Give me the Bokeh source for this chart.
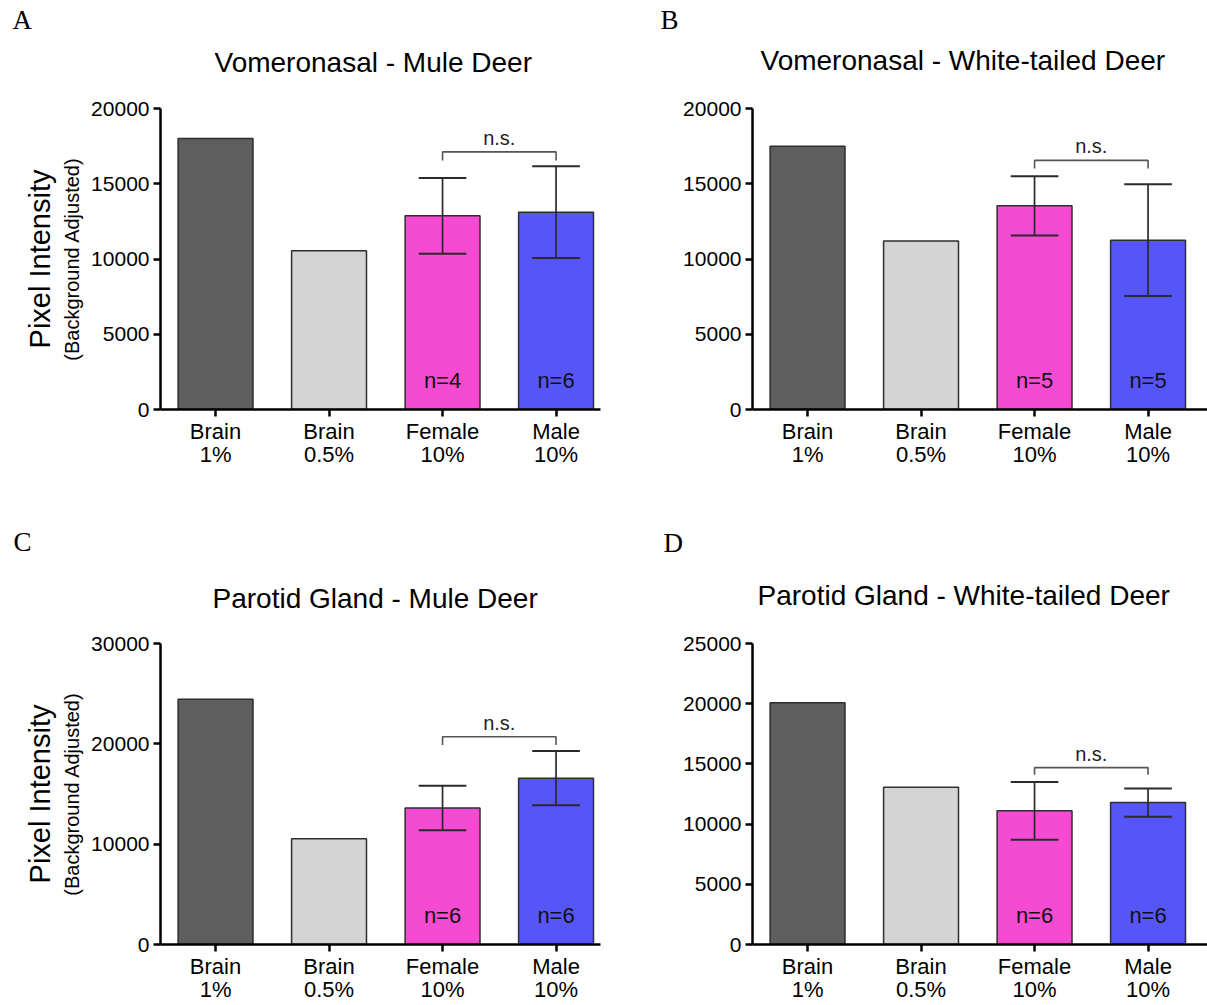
from bokeh.core.properties import value
from bokeh.embed import file_html
from bokeh.layouts import column, row
from bokeh.models import ColumnDataSource, FixedTicker, LinearAxis, Range1d, Title
from bokeh.plotting import figure
from bokeh.resources import INLINE

# ---- data -------------------------------------------------------------
groups = ["Brain\n1%", "Brain\n0.5%", "Female\n10%", "Male\n10%"]
bar_colors = ["#5e5e5e", "#d4d4d4", "#f54bd3", "#5656f8"]

# Vomeronasal - Mule Deer
vom_mule_mean = [18000, 10550, 12870, 13110]
vom_mule_sem = [2520, 3050]          # Female, Male
vom_mule_n = ["n=4", "n=6"]
vom_mule_bracket = [17120, 16550]    # bar height, leg end

# Vomeronasal - White-tailed Deer
vom_wtd_mean = [17500, 11200, 13530, 11250]
vom_wtd_sem = [1970, 3710]
vom_wtd_n = ["n=5", "n=5"]
vom_wtd_bracket = [16550, 16020]

# Parotid Gland - Mule Deer
par_mule_mean = [24450, 10550, 13600, 16580]
par_mule_sem = [2215, 2695]
par_mule_n = ["n=6", "n=6"]
par_mule_bracket = [20700, 19880]

# Parotid Gland - White-tailed Deer
par_wtd_mean = [20080, 13070, 11100, 11790]
par_wtd_sem = [2390, 1175]
par_wtd_n = ["n=6", "n=6"]
par_wtd_bracket = [14690, 14090]

SANS = "Liberation Sans"
SERIF = "Liberation Serif"
PX_PER_GROUP = 113.5
X_START = -0.485
INK = "#2a2a2a"


def spacer(px):
    """An empty title band that only reserves vertical space."""
    return Title(text=" ", text_font_size="1px", standoff=max(px - 3, 0))


def panel(letter, title, means, sems, ns, bracket, y_max, y_ticks,
          width, height, left, top, frame_h, right, ylabel,
          title_x, gap_title, letter_x, gap_letter):
    bottom = height - top - frame_h
    frame_w = width - left - right
    x_end = X_START + frame_w / PX_PER_GROUP
    p = figure(width=width, height=height, output_backend="svg",
               toolbar_location=None, x_range=Range1d(X_START, x_end),
               y_range=Range1d(0, y_max),
               min_border_left=left, min_border_right=right,
               min_border_top=top, min_border_bottom=bottom)
    p.grid.visible = False
    p.outline_line_color = None

    xs = list(range(len(groups)))
    src = ColumnDataSource(dict(x=xs, top=means, color=bar_colors))
    p.vbar(x="x", top="top", width=0.66, bottom=0, source=src,
           fill_color="color", line_color="#2e2e2e", line_width=1.5)

    # error bars (mean +/- SEM) on the two sample groups
    ex = [2, 3]
    em = means[2:]
    lo = [m - s for m, s in zip(em, sems)]
    hi = [m + s for m, s in zip(em, sems)]
    cap = 0.21
    p.segment(x0=ex, y0=lo, x1=ex, y1=hi, line_color=INK, line_width=1.7)
    p.segment(x0=[x - cap for x in ex] * 2, y0=hi + lo,
              x1=[x + cap for x in ex] * 2, y1=hi + lo,
              line_color=INK, line_width=2)

    # comparison bracket
    b_y, b_leg = bracket
    p.multi_line(xs=[[2, 2, 3, 3]], ys=[[b_leg, b_y, b_y, b_leg]],
                 line_color="#555555", line_width=1.6)
    p.text(x=[2.5], y=[b_y], text=["n.s."], text_align="center",
           text_baseline="bottom", y_offset=-3, text_font=value(SANS),
           text_font_size="20px", text_color="#222222")

    # group sizes inside the bars
    p.text(x=ex, y=[0, 0], text=ns, text_align="center", text_baseline="middle",
           y_offset=-29, text_font=value(SANS), text_font_size="22px",
           text_color="#111111")

    for ax in (p.xaxis[0], p.yaxis[0]):
        ax.axis_line_width = 2.5
        ax.axis_line_color = "black"
        ax.major_tick_line_width = 2.5
        ax.major_tick_out = 7
        ax.major_tick_in = 0
        ax.minor_tick_line_color = None
        ax.major_label_text_font = SANS
        ax.major_label_text_color = "black"
    p.xaxis.ticker = FixedTicker(ticks=xs)
    p.xaxis.major_label_overrides = {i: g for i, g in enumerate(groups)}
    p.xaxis.major_label_standoff = 2
    p.xaxis.major_label_text_font_size = "22px"
    p.xaxis.major_label_text_line_height = 0.95
    p.yaxis.ticker = FixedTicker(ticks=y_ticks)
    p.yaxis.major_label_standoff = 4
    p.yaxis.major_label_text_font_size = "21px"

    if ylabel:
        ya = p.yaxis[0]
        ya.axis_label = "(Background Adjusted)"
        ya.axis_label_text_font = SANS
        ya.axis_label_text_font_style = "normal"
        ya.axis_label_text_font_size = "20px"
        ya.axis_label_text_color = "black"
        ya.axis_label_standoff = 5
        outer = LinearAxis(ticker=FixedTicker(ticks=[]), axis_line_color=None,
                           major_tick_out=0, major_tick_in=0,
                           minor_tick_out=0, minor_tick_in=0,
                           major_label_standoff=0,
                           axis_label="Pixel Intensity", axis_label_standoff=3,
                           axis_label_text_font=SANS,
                           axis_label_text_font_style="normal",
                           axis_label_text_font_size="29px",
                           axis_label_text_color="black")
        p.add_layout(outer, "left")

    # above the frame, outward: gap, chart title, gap, panel letter
    p.add_layout(spacer(gap_title), "above")
    p.add_layout(Title(text=title, align="left", offset=title_x - left,
                       vertical_align="top", standoff=0,
                       text_font=SANS, text_font_style="normal",
                       text_font_size="28px", text_color="black"), "above")
    p.add_layout(spacer(gap_letter), "above")
    p.title.text = letter
    p.title.align = "left"
    p.title.offset = letter_x - left
    p.title.vertical_align = "top"
    p.title.standoff = 0
    p.title.text_font = SERIF
    p.title.text_font_style = "normal"
    p.title.text_font_size = "27px"
    p.title.text_color = "black"
    return p


pa = panel("A", "Vomeronasal - Mule Deer", vom_mule_mean, vom_mule_sem, vom_mule_n,
           vom_mule_bracket, 20000, [0, 5000, 10000, 15000, 20000],
           width=603, height=500, left=160, top=108, frame_h=301, right=3,
           ylabel=True, title_x=214, gap_title=29, letter_x=12, gap_letter=10)
pb = panel("B", "Vomeronasal - White-tailed Deer", vom_wtd_mean, vom_wtd_sem, vom_wtd_n,
           vom_wtd_bracket, 20000, [0, 5000, 10000, 15000, 20000],
           width=604, height=500, left=149, top=105, frame_h=304, right=0,
           ylabel=False, title_x=157, gap_title=31, letter_x=57, gap_letter=8)
pc = panel("C", "Parotid Gland - Mule Deer", par_mule_mean, par_mule_sem, par_mule_n,
           par_mule_bracket, 30000, [0, 10000, 20000, 30000],
           width=603, height=505, left=160, top=143, frame_h=302, right=3,
           ylabel=True, title_x=212, gap_title=28, letter_x=13, gap_letter=24)
pd = panel("D", "Parotid Gland - White-tailed Deer", par_wtd_mean, par_wtd_sem, par_wtd_n,
           par_wtd_bracket, 25000, [0, 5000, 10000, 15000, 20000, 25000],
           width=604, height=505, left=149, top=140, frame_h=305, right=0,
           ylabel=False, title_x=154, gap_title=31, letter_x=60, gap_letter=20)

layout = column(row(pa, pb), row(pc, pd))
open("out.html", "w").write(file_html(layout, INLINE))
